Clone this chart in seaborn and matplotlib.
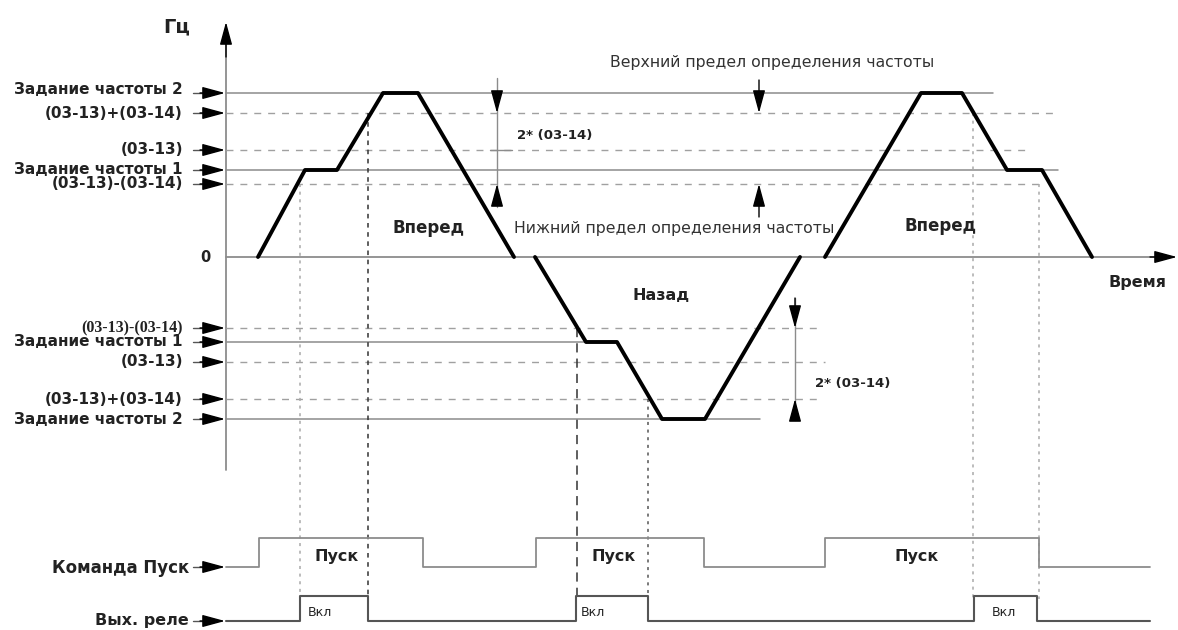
import numpy as np
import pandas as pd
import matplotlib
matplotlib.use("Agg")
import matplotlib.pyplot as plt
import seaborn as sns

# ------------------------------ DATA ------------------------------
# frequency levels (positive direction)
lvl_names_pos = ["Задание частоты 2", "(03-13)+(03-14)", "(03-13)", "Задание частоты 1", "(03-13)-(03-14)"]
lvl_values_pos = [164, 144, 107, 87, 73]
lvl_solid_pos = [True, False, False, True, False]
lvl_end_pos = [993, 1058, 1025, 1058, 1040]

# frequency levels (reverse direction)
lvl_names_neg = ["(03-13)-(03-14)", "Задание частоты 1", "(03-13)", "(03-13)+(03-14)", "Задание частоты 2"]
lvl_values_neg = [-71, -85, -105, -142, -162]
lvl_solid_neg = [False, True, False, False, True]
lvl_end_neg = [822, 600, 825, 817, 760]

# output frequency profile, three runs
run1_t = [258, 305, 337, 383, 418, 514]
run1_f = [0, 87, 87, 164, 164, 0]
run2_t = [535, 586, 617, 662, 705, 800]
run2_f = [0, -85, -85, -162, -162, 0]
run3_t = [825, 921, 962, 1007, 1042, 1092]
run3_f = [0, 164, 164, 87, 87, 0]

# moments where the relay switches
mark_t = [300, 368, 577, 648, 973, 1039]
mark_f = [73, 144, -71, -142, 144, 73]

# run command and relay output (step signals)
cmd_t = [226, 259, 423, 536, 704, 825, 1039, 1150]
cmd_on = [0, 1, 0, 1, 0, 1, 0, 0]
relay_t = [226, 300, 368, 576, 648, 974, 1037, 1150]
relay_on = [0, 1, 0, 1, 0, 1, 0, 0]
CMD_LOW, CMD_HIGH = -310, -281
RELAY_LOW, RELAY_HIGH = -364, -339

GRAY = "#8c8c8c"
FONT = "DejaVu Sans"

# ------------------------------ FIGURE ------------------------------
sns.set_style("white")
plt.rcParams["font.family"] = [FONT]

fig = plt.figure(figsize=(11.78, 6.3), dpi=100)
ax = fig.add_axes([0, 0, 1, 1])
ax.set_xlim(0, 1178)
ax.set_ylim(-373, 257)
ax.axis("off")


def arrow(x0, y0, x1, y1, col="black", lw=1.0):
    ax.annotate("", xy=(x1, y1), xytext=(x0, y0),
                arrowprops=dict(arrowstyle="-|>,head_length=1.4,head_width=0.38",
                                color=col, lw=lw, mutation_scale=10, shrinkA=0, shrinkB=0))


# axes with arrows
ax.plot([226, 226], [-213, 215], color=GRAY, lw=1.3)
arrow(226, 200, 226, 235)
ax.plot([226, 1160], [0, 0], color=GRAY, lw=1.3)
arrow(1150, 0, 1177, 0)

# level lines and left labels
for names, vals, solid, ends in [(lvl_names_pos, lvl_values_pos, lvl_solid_pos, lvl_end_pos),
                                 (lvl_names_neg, lvl_values_neg, lvl_solid_neg, lvl_end_neg)]:
    for name, v, s, e in zip(names, vals, solid, ends):
        if s:
            ax.plot([226, e], [v, v], color=GRAY, lw=1.1)
        else:
            ax.plot([226, e], [v, v], color="#a0a0a0", lw=1.0, ls=(0, (5, 5)))
        ax.plot([193, 210], [v, v], color="#555555", lw=1.0)
        arrow(200, v, 225, v)
        fam = FONT
        size = 11
        if name == "(03-13)-(03-14)" and v < 0:
            fam = "Liberation Serif"
            size = 11.5
        dy = 3 if name == "Задание частоты 2" and v > 0 else 0
        ax.text(183, v + dy, name, ha="right", va="center", fontsize=size,
                fontweight="bold", color="#222222", family=fam)

# vertical relay markers
mark_styles = [(0, (2, 3)), (0, (3, 3)), (0, (6, 4)), (0, (2, 3)), (0, (2, 3)), (0, (2, 3))]
mark_cols = ["#aaaaaa", "#333333", "#333333", "#555555", "#aaaaaa", "#aaaaaa"]
for t, f, st, c in zip(mark_t, mark_f, mark_styles, mark_cols):
    ax.plot([t, t], [f, -342], color=c, lw=1.1, ls=st)

# frequency profile
for t, f in [(run1_t, run1_f), (run2_t, run2_f), (run3_t, run3_f)]:
    sns.lineplot(x=t, y=f, sort=False, color="black", lw=2.8, ax=ax, estimator=None)

# detection band dimension (forward)
ax.plot([497, 497], [179, 50], color=GRAY, lw=1.0)
arrow(497, 150, 497, 144)
arrow(497, 60, 497, 73)
ax.plot([490, 512], [107, 107], color=GRAY, lw=1.0)
ax.text(517, 122, "2* (03-14)", ha="left", va="center", fontsize=9.5, fontweight="bold", color="#222222")
arrow(759, 177, 759, 144)
arrow(759, 40, 759, 73)
ax.text(772, 194, "Верхний предел определения частоты", ha="center", va="center", fontsize=11.3, color="#333333")
ax.text(674, 29, "Нижний предел определения частоты", ha="center", va="center", fontsize=11.3, color="#333333")

# detection band dimension (reverse)
ax.plot([795, 795], [-41, -163], color=GRAY, lw=1.0)
arrow(795, -41, 795, -71)
arrow(795, -163, 795, -142)
ax.text(815, -126, "2* (03-14)", ha="left", va="center", fontsize=9.5, fontweight="bold", color="#222222")

# direction labels
ax.text(428, 29, "Вперед", ha="center", va="center", fontsize=12, fontweight="bold", color="#222222")
ax.text(940, 31, "Вперед", ha="center", va="center", fontsize=12, fontweight="bold", color="#222222")
ax.text(661, -39, "Назад", ha="center", va="center", fontsize=11.5, fontweight="bold", color="#222222")
ax.text(177, 230, "Гц", ha="center", va="center", fontsize=14, fontweight="bold", color="#222222")
ax.text(205, 0, "0", ha="center", va="center", fontsize=10.5, fontweight="bold", color="#222222")
ax.text(1138, -25, "Время", ha="center", va="center", fontsize=11.5, fontweight="bold", color="#222222")

# step signals
cmd_y = [CMD_HIGH if s else CMD_LOW for s in cmd_on]
relay_y = [RELAY_HIGH if s else RELAY_LOW for s in relay_on]
sns.lineplot(x=cmd_t, y=cmd_y, sort=False, estimator=None, drawstyle="steps-post", color=GRAY, lw=1.3, ax=ax)
sns.lineplot(x=relay_t, y=relay_y, sort=False, estimator=None, drawstyle="steps-post", color="#555555", lw=1.5, ax=ax)

ax.plot([193, 210], [CMD_LOW, CMD_LOW], color="#555555", lw=1.0)
arrow(200, CMD_LOW, 225, CMD_LOW)
ax.plot([193, 210], [RELAY_LOW, RELAY_LOW], color="#555555", lw=1.0)
arrow(200, RELAY_LOW, 225, RELAY_LOW)
ax.text(189, CMD_LOW - 1, "Команда Пуск", ha="right", va="center", fontsize=12, fontweight="bold", color="#222222")
ax.text(189, RELAY_LOW + 1, "Вых. реле", ha="right", va="center", fontsize=11.5, fontweight="bold", color="#222222")

for x in [337, 614, 917]:
    ax.text(x, -300, "Пуск", ha="center", va="center", fontsize=11.5, fontweight="bold", color="#222222")
for x in [320, 593, 1004]:
    ax.text(x, -356, "Вкл", ha="center", va="center", fontsize=9, color="#222222")

fig.savefig("out.png", dpi=100, facecolor="white")
